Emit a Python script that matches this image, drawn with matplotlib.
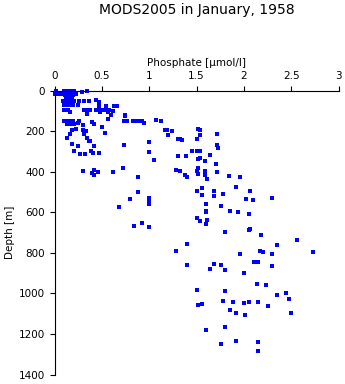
import matplotlib
matplotlib.use("Agg")
import matplotlib.pyplot as plt

# phosphate [umol/l] and depth [m] of each sample
phosphate = [
    # surface block
    0.10, 0.13, 0.16, 0.19, 0.21, 0.10, 0.13, 0.16, 0.19, 0.21,
    0.10, 0.13, 0.16, 0.19, 0.21, 0.11, 0.14, 0.17, 0.20, 0.12, 0.15, 0.18,
    0.00, 0.03, 0.06, 0.08, 0.02, 0.29, 0.34, 0.23,
    # 50-150 m
    0.09, 0.12, 0.15, 0.18, 0.21, 0.26, 0.31, 0.36, 0.44, 0.47,
    0.10, 0.13, 0.16, 0.20, 0.25, 0.47, 0.54, 0.63, 0.66,
    0.10, 0.14, 0.31, 0.34, 0.37, 0.44, 0.48, 0.51, 0.55, 0.58,
    0.16, 0.34, 0.48, 0.56, 0.60, 0.56, 0.74, 0.74, 0.62,
    0.10, 0.13, 0.16, 0.20, 0.26, 0.40, 0.42, 0.73, 0.77, 0.83, 0.87, 0.90,
    # 150-320 m, low values
    0.13, 0.17, 0.21, 0.25, 0.30, 0.50,
    0.18, 0.23, 0.30, 0.33, 0.53, 0.73,
    0.16, 0.31, 0.135, 0.34, 0.36, 0.37, 0.18, 0.25, 0.42,
    0.21, 0.39, 0.41, 0.47, 0.27, 0.32,
    0.30, 0.40, 0.42, 0.42, 0.46, 0.62, 0.72, 0.885, 0.885, 0.80, 0.68, 0.84,
    # middle
    0.92, 0.945, 1.075, 1.12, 1.0, 1.0, 1.05, 1.17, 1.19, 1.245, 1.2,
    1.30, 1.33, 1.35, 1.52, 1.54, 1.54, 1.72, 1.72, 1.73, 1.505,
    1.455, 1.50, 1.54, 1.64, 1.30, 1.39, 1.52, 1.54, 1.59, 1.70,
    1.28, 1.325, 1.38, 1.40, 1.50, 1.52, 1.52, 1.59, 1.59, 1.61, 1.72, 1.845, 1.96,
    1.0, 1.0, 1.0, 0.92, 1.0, 1.40,
    1.50, 1.56, 1.56, 1.68, 1.68, 1.78, 1.92, 1.60, 1.76, 1.60, 1.60, 1.85, 1.94,
    1.50, 1.61, 1.54, 1.60, 1.80, 2.06, 2.10, 2.025, 2.30, 2.05, 2.06, 2.05, 2.18, 2.56, 2.35,
    # deep
    2.73, 1.28, 1.40, 1.68, 1.645, 1.76, 1.80, 1.96, 2.00, 2.11, 2.15, 2.17, 2.20, 2.30, 2.30,
    2.14, 2.23, 2.35, 2.44, 2.48, 2.50, 1.50, 1.80, 1.52, 1.56, 1.78, 1.88, 2.00, 2.05, 2.15, 2.25,
    1.85, 1.92, 2.01, 1.60, 1.80, 1.92, 1.76, 2.15, 2.15,
]
depth = [
    0, 0, 0, 0, 0, 8, 8, 8, 8, 8,
    16, 16, 16, 16, 16, 24, 24, 24, 24, 30, 30, 30,
    18, 19, 18, 17, 0, 7, 0, 17,
    50, 50, 50, 50, 50, 50, 50, 50, 47, 58,
    73, 73, 73, 73, 73, 76, 78, 76, 76,
    96, 96, 96, 96, 96, 96, 96, 96, 96, 96,
    107, 116, 107, 106, 121, 139, 121, 125, 101,
    152, 152, 152, 152, 152, 155, 164, 152, 152, 152, 152, 150,
    165, 165, 165, 162, 168, 181,
    193, 190, 193, 198, 211, 267,
    214, 214, 234, 236, 250, 250, 264, 275, 272,
    296, 300, 306, 309, 314, 314,
    398, 408, 392, 416, 403, 403, 380, 428, 502, 536, 575, 669,
    152, 162, 147, 152, 255, 304, 344, 195, 195, 200, 221,
    239, 239, 245, 188, 196, 221, 213, 268, 282, 240,
    300, 298, 300, 319, 324, 324, 339, 334, 349, 364,
    393, 398, 418, 428, 397, 380, 413, 398, 418, 438, 402, 423, 428,
    528, 540, 561, 651, 674, 758,
    495, 482, 513, 518, 495, 511, 477, 561, 571, 595, 600, 595, 600,
    627, 637, 645, 660, 699, 497, 541, 536, 531, 610, 683, 689, 712, 738, 763,
    797, 793, 858, 854, 878, 858, 886, 806, 898, 844, 845, 793, 796, 807, 867,
    955, 960, 1009, 998, 1028, 1098, 985, 990, 1055, 1054, 1039, 1044, 1049, 1044, 1044, 1064,
    1083, 1098, 1106, 1182, 1167, 1233, 1251, 1241, 1282,
]

x_ticks = [0, 0.5, 1, 1.5, 2, 2.5, 3]
x_labels = ["0", "0.5", "1", "1.5", "2", "2.5", "3"]
y_ticks = [0, 200, 400, 600, 800, 1000, 1200, 1400]

plt.rcParams['font.family'] = ['DejaVu Sans']

fig = plt.figure(figsize=(3.45, 3.84), dpi=100)
ax = fig.add_axes([0.158, 0.0245, 0.8237, 0.7398])

ax.plot(phosphate, depth, 's', color='#0000ff', ms=2.2, mew=0, clip_on=False)

ax.set_xlim(0, 3)
ax.set_ylim(1400, 0)
ax.set_xticks(x_ticks)
ax.set_xticklabels(x_labels)
ax.set_yticks(y_ticks)
ax.xaxis.tick_top()
ax.xaxis.set_label_position('top')
ax.spines['right'].set_visible(False)
ax.spines['bottom'].set_visible(False)
ax.spines['top'].set_linewidth(0.8)
ax.spines['left'].set_linewidth(0.8)
ax.tick_params(axis='both', direction='out', length=3.6, width=0.8, pad=3, labelsize=7.5)
ax.set_xlabel('Phosphate [\u00b5mol/l]', fontsize=7.5, labelpad=4)
ax.set_ylabel('Depth [m]', fontsize=7.5, labelpad=3)

fig.text(0.57, 1 - 10 / 384, 'MODS2005 in January, 1958', ha='center', va='center', fontsize=10)

fig.savefig('out.png', dpi=100)
